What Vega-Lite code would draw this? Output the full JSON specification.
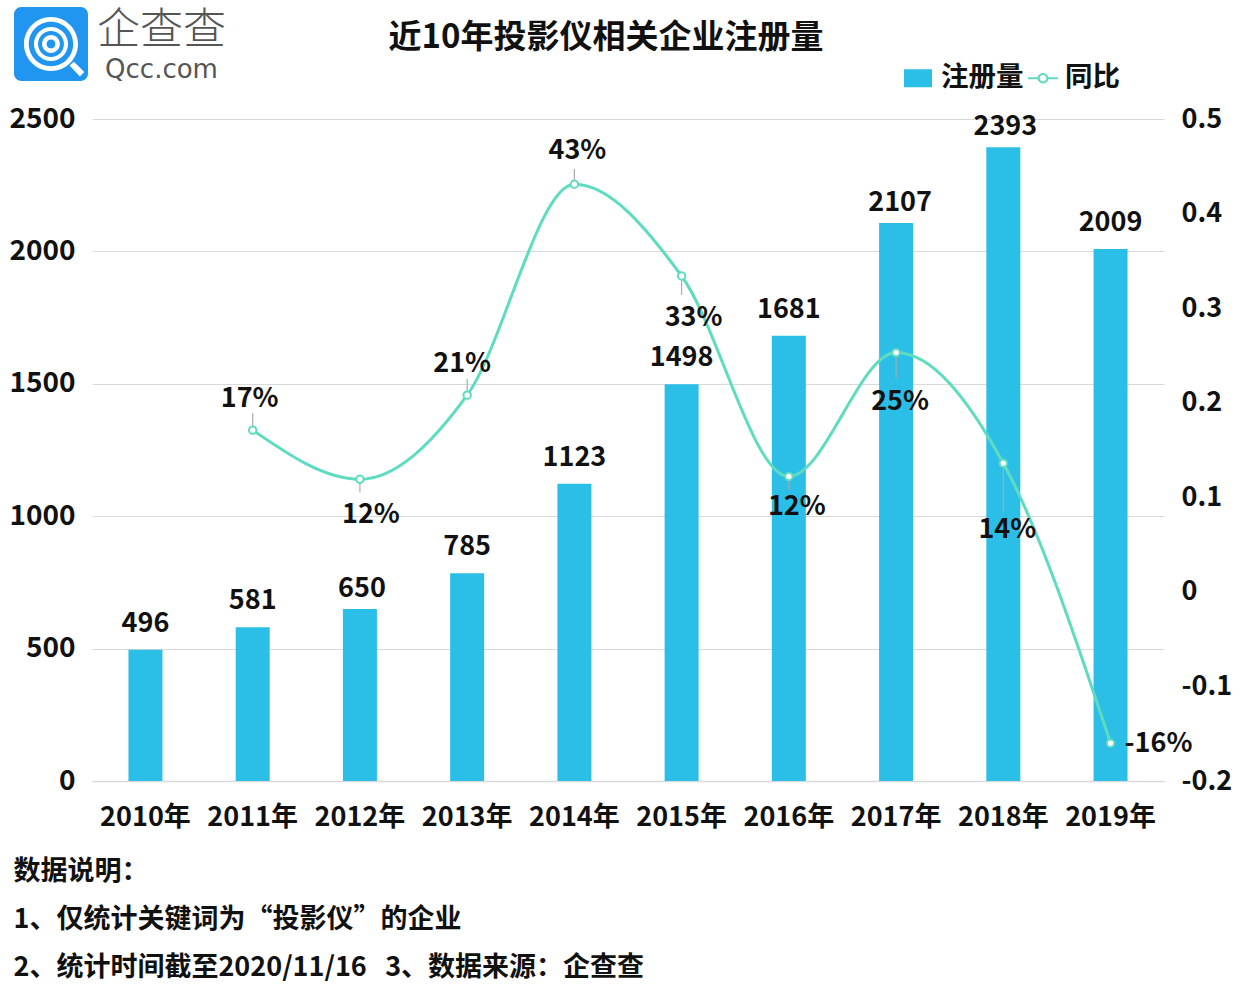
{
"$schema":"https://vega.github.io/schema/vega-lite/v6.json",
"width":1072,"height":662,
"autosize":{"type":"none"},
"padding":{"left":92,"top":119,"right":78,"bottom":213},
"background":"#ffffff",
"config":{"view":{"stroke":null},"font":"Noto Sans CJK SC","text":{"font":"Noto Sans CJK SC"}},
"title":{"text":"近10年投影仪相关企业注册量","font":"Noto Sans CJK SC","fontSize":33,"fontWeight":700,"color":"#111111","anchor":"middle","dx":-22,"offset":-49},
"data":{"values":[
{"year":"2010年","count":496,"yoy":null,"yoy_label":null,"leader_end":null},
{"year":"2011年","count":581,"yoy":0.171,"yoy_label":"17%","leader_end":0.189},
{"year":"2012年","count":650,"yoy":0.119,"yoy_label":"12%","leader_end":0.105},
{"year":"2013年","count":785,"yoy":0.208,"yoy_label":"21%","leader_end":0.225},
{"year":"2014年","count":1123,"yoy":0.431,"yoy_label":"43%","leader_end":0.447},
{"year":"2015年","count":1498,"yoy":0.334,"yoy_label":"33%","leader_end":0.314},
{"year":"2016年","count":1681,"yoy":0.122,"yoy_label":"12%","leader_end":0.108},
{"year":"2017年","count":2107,"yoy":0.253,"yoy_label":"25%","leader_end":0.226},
{"year":"2018年","count":2393,"yoy":0.136,"yoy_label":"14%","leader_end":0.084},
{"year":"2019年","count":2009,"yoy":-0.16,"yoy_label":"-16%","leader_end":null}
]},
"encoding":{"x":{"field":"year","type":"nominal","sort":null,"scale":{"paddingInner":0.683,"paddingOuter":0.34},
"axis":{"labelAngle":0,"labelFont":"Noto Sans CJK SC","labelFontSize":27,"labelFontWeight":700,"labelColor":"#111111","labelPadding":23,"ticks":false,"domain":true,"domainColor":"#d9d9d9","domainWidth":1.5,
"title":["数据说明：","1、仅统计关键词为“投影仪”的企业","2、统计时间截至2020/11/16\u00a0\u00a0\u00a03、数据来源：企查查"],
"titleFont":"Noto Sans CJK SC","titleFontSize":27,"titleFontWeight":700,"titleColor":"#111111","titleAlign":"left","titleAnchor":"start","titleBaseline":"middle","titleX":-79,"titleY":90,"titleLineHeight":48}}},
"layer":[
{"encoding":{"y":{"field":"count","type":"quantitative","scale":{"domain":[0,2500]},
"axis":{"values":[0,500,1000,1500,2000,2500],"format":"d","grid":true,"gridColor":"#d9d9d9","gridWidth":1.2,"domain":false,"ticks":false,"labelFont":"Noto Sans CJK SC","labelFontSize":28,"labelFontWeight":700,"labelColor":"#111111","labelPadding":17,
"title":"企查查","titleFont":"Noto Sans CJK SC","titleFontSize":43,"titleFontWeight":300,"titleColor":"#555555","titleAngle":0,"titleAlign":"center","titleBaseline":"middle","titleLimit":400,"titleX":69,"titleY":-89}}},
"layer":[
{"mark":{"type":"bar","clip":false},"encoding":{"color":{"datum":"注册量","type":"nominal","scale":{"domain":["注册量","同比"],"range":["#2bbfe8","#5fdcc0"]},
"legend":{"title":null,"orient":"none","legendX":812,"legendY":-56,"direction":"horizontal","columns":2,"symbolSize":900,"symbolType":"square","labelFont":"Noto Sans CJK SC","labelFontSize":27.5,"labelFontWeight":700,"labelColor":"#111111","labelOffset":7,"columnPadding":4,"padding":0,
"encode":{"symbols":{"update":{"shape":{"signal":"datum.value=='同比'?'M-1 -.06H-.36A.37 .37 0 0 1 .36 -.06H1V.06H.36A.37 .37 0 0 1 -.36 .06H-1ZM.22 0A.22 .22 0 1 0 -.22 0A.22 .22 0 1 0 .22 0Z':'M-1 -.6H.87V.6H-1Z'"},"strokeWidth":{"value":0},"opacity":{"value":1}}}}}}}},
{"transform":[{"filter":"datum.year!='2012年'&&datum.year!='2017年'&&datum.year!='2018年'"}],"mark":{"type":"text","baseline":"middle","align":"center","dy":-26,"font":"Noto Sans CJK SC","fontSize":27,"fontWeight":700,"color":"#111111"},"encoding":{"text":{"field":"count","type":"quantitative","format":"d"}}},
{"transform":[{"filter":"datum.year=='2012年'"}],"mark":{"type":"text","baseline":"middle","align":"center","dx":2,"dy":-20,"font":"Noto Sans CJK SC","fontSize":27,"fontWeight":700,"color":"#111111"},"encoding":{"text":{"field":"count","type":"quantitative","format":"d"}}},
{"transform":[{"filter":"datum.year=='2017年'"}],"mark":{"type":"text","baseline":"middle","align":"center","dx":4,"dy":-20,"font":"Noto Sans CJK SC","fontSize":27,"fontWeight":700,"color":"#111111"},"encoding":{"text":{"field":"count","type":"quantitative","format":"d"}}},
{"transform":[{"filter":"datum.year=='2018年'"}],"mark":{"type":"text","baseline":"middle","align":"center","dx":2,"dy":-20,"font":"Noto Sans CJK SC","fontSize":27,"fontWeight":700,"color":"#111111"},"encoding":{"text":{"field":"count","type":"quantitative","format":"d"}}},
{"transform":[{"filter":"datum.year=='2010年'"}],"mark":{"type":"point","opacity":0,"filled":true,"color":"#2196f0"},"encoding":{"x":{"value":0},"y":{"value":0},"shape":{"datum":"企查查 logo","type":"nominal","scale":{"domain":["企查查 logo"],"range":["M-.8 -1H.8A.2 .2 0 0 1 1 -.8V.8A.2 .2 0 0 1 .8 1H-.8A.2 .2 0 0 1 -1 .8V-.8A.2 .2 0 0 1 -.8 -1ZM.73 0A.73 .73 0 1 0 -.73 0A.73 .73 0 1 0 .73 0ZM.6 0A.6 .6 0 1 1 -.6 0A.6 .6 0 1 1 .6 0ZM.46 0A.46 .46 0 1 0 -.46 0A.46 .46 0 1 0 .46 0ZM.35 0A.35 .35 0 1 1 -.35 0A.35 .35 0 1 1 .35 0ZM.24 0A.24 .24 0 1 0 -.24 0A.24 .24 0 1 0 .24 0ZM.12 0A.12 .12 0 1 1 -.12 0A.12 .12 0 1 1 .12 0ZM.5 .58L.78 .88L.9 .76L.62 .48Z"]},
"legend":{"title":null,"orient":"none","legendX":-79,"legendY":-113,"padding":0,"symbolSize":5476,"labelExpr":"''","labelFontSize":1,"encode":{"symbols":{"update":{"strokeWidth":{"value":0},"opacity":{"value":1}}}}}}}}
]},
{"transform":[{"filter":"isValid(datum.yoy)"}],
"encoding":{"y":{"field":"yoy","type":"quantitative","scale":{"domain":[-0.2,0.5]},
"axis":{"orient":"right","values":[-0.2,-0.1,0,0.1,0.2,0.3,0.4,0.5],"labelExpr":"''+round(datum.value*10)/10","grid":false,"domain":false,"ticks":false,"labelFont":"Noto Sans CJK SC","labelFontSize":27,"labelFontWeight":700,"labelColor":"#111111","labelAlign":"left","labelPadding":17,
"title":"Qcc.com","titleFont":"DejaVu Sans","titleFontSize":26,"titleFontWeight":400,"titleColor":"#555555","titleAngle":0,"titleAlign":"center","titleBaseline":"middle","titleX":-1003,"titleY":-50}}},
"layer":[
{"transform":[{"filter":"isValid(datum.leader_end)"}],"mark":{"type":"rule","color":"#aaaaaa","strokeWidth":1.2},"encoding":{"y2":{"field":"leader_end"}}},
{"mark":{"type":"line","interpolate":"monotone","strokeWidth":3},"encoding":{"color":{"datum":"同比","type":"nominal"}}},
{"mark":{"type":"point","filled":true,"fill":"#ffffff","stroke":"#5fdcc0","strokeWidth":2,"size":55,"opacity":1}},
{"transform":[{"filter":"datum.year=='2011年'"}],"mark":{"type":"text","dx":-3,"dy":-31,"baseline":"middle","font":"Noto Sans CJK SC","fontSize":27,"fontWeight":700,"color":"#111111"},"encoding":{"text":{"field":"yoy_label"}}},
{"transform":[{"filter":"datum.year=='2012年'"}],"mark":{"type":"text","dx":11,"dy":36,"baseline":"middle","font":"Noto Sans CJK SC","fontSize":27,"fontWeight":700,"color":"#111111"},"encoding":{"text":{"field":"yoy_label"}}},
{"transform":[{"filter":"datum.year=='2013年'"}],"mark":{"type":"text","dx":-5,"dy":-31,"baseline":"middle","font":"Noto Sans CJK SC","fontSize":27,"fontWeight":700,"color":"#111111"},"encoding":{"text":{"field":"yoy_label"}}},
{"transform":[{"filter":"datum.year=='2014年'"}],"mark":{"type":"text","dx":3,"dy":-33,"baseline":"middle","font":"Noto Sans CJK SC","fontSize":27,"fontWeight":700,"color":"#111111"},"encoding":{"text":{"field":"yoy_label"}}},
{"transform":[{"filter":"datum.year=='2015年'"}],"mark":{"type":"text","dx":12,"dy":42,"baseline":"middle","font":"Noto Sans CJK SC","fontSize":27,"fontWeight":700,"color":"#111111"},"encoding":{"text":{"field":"yoy_label"}}},
{"transform":[{"filter":"datum.year=='2016年'"}],"mark":{"type":"text","dx":8,"dy":31,"baseline":"middle","font":"Noto Sans CJK SC","fontSize":27,"fontWeight":700,"color":"#111111"},"encoding":{"text":{"field":"yoy_label"}}},
{"transform":[{"filter":"datum.year=='2017年'"}],"mark":{"type":"text","dx":4,"dy":49,"baseline":"middle","font":"Noto Sans CJK SC","fontSize":27,"fontWeight":700,"color":"#111111"},"encoding":{"text":{"field":"yoy_label"}}},
{"transform":[{"filter":"datum.year=='2018年'"}],"mark":{"type":"text","dx":4,"dy":67,"baseline":"middle","font":"Noto Sans CJK SC","fontSize":27,"fontWeight":700,"color":"#111111"},"encoding":{"text":{"field":"yoy_label"}}},
{"transform":[{"filter":"datum.year=='2019年'"}],"mark":{"type":"text","dx":48,"dy":1,"baseline":"middle","font":"Noto Sans CJK SC","fontSize":27,"fontWeight":700,"color":"#111111"},"encoding":{"text":{"field":"yoy_label"}}}
]}
],
"resolve":{"scale":{"y":"independent"}}
}
